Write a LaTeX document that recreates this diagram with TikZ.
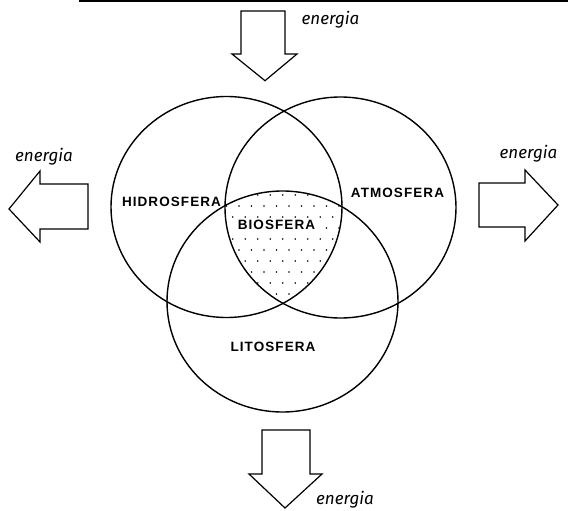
\documentclass[tikz,border=0pt]{standalone}
\usepackage{fontspec}
\setmainfont{Liberation Sans}
\newfontfamily\labfont[LetterSpace=8]{Liberation Sans}
\newfontfamily\enfont{Fira Sans}
\begin{document}
\begin{tikzpicture}[x=1pt,y=-1pt]
\useasboundingbox (0,0) rectangle (568,511);
\tikzset{
  ring/.style={line width=1.4pt},
  blockarrow/.style={line width=1.2pt, line join=miter},
  lab/.style={font=\labfont\bfseries\fontsize{13.5}{15}\selectfont, inner sep=0pt},
  en/.style={font=\enfont\itshape\fontsize{17}{19}\selectfont, inner sep=0pt},
  dotmark/.style={fill=black}
}
% top rule
\draw[line width=2pt] (79,1) -- (568,1);
% dotted biosphere region
\begin{scope}
  \clip (226.5,207) ellipse [x radius=115.5pt, y radius=110.5pt];
  \clip (340.5,207.5) ellipse [x radius=115.5pt, y radius=110.5pt];
  \clip (282.5,301.5) ellipse [x radius=115.5pt, y radius=110.5pt];
  \foreach \i in {0,...,11}
    \foreach \j in {0,...,11}
      \fill[dotmark] ({214+\i*12.5+mod(\j,2)*6.25},{184+\j*11}) circle [radius=0.85pt];
\end{scope}
% circles
\draw[ring] (226.5,207) ellipse [x radius=115.5pt, y radius=110.5pt];
\draw[ring] (340.5,207.5) ellipse [x radius=115.5pt, y radius=110.5pt];
\draw[ring] (282.5,301.5) ellipse [x radius=115.5pt, y radius=110.5pt];
% labels
\node[lab] (hidro) at (171.5,202) {HIDROSFERA};
\node[lab] (atmo) at (397.5,193) {ATMOSFERA};
\node[lab, fill=white, inner sep=1.5pt] (bio) at (276.5,225) {BIOSFERA};
\node[lab] (lito) at (273,347) {LITOSFERA};
% energy arrows
\draw[blockarrow] (241,11) -- (285,11) -- (285,54) -- (297,54) -- (265,80.7) -- (232,54) -- (241,54) -- cycle;
\draw[blockarrow] (9,209) -- (40,171) -- (40,184) -- (88,184) -- (88,229) -- (40,229) -- (40,242) -- cycle;
\draw[blockarrow] (479,183) -- (525,183) -- (525,170) -- (558,205) -- (525,241) -- (525,227) -- (479,227) -- cycle;
\draw[blockarrow] (262,430) -- (310,430) -- (310,474) -- (322,474) -- (285,508) -- (249,474) -- (262,474) -- cycle;
\node[en] (entop) at (330.5,20) {energia};
\node[en] (enleft) at (44,157) {energia};
\node[en] (enright) at (528.5,154) {energia};
\node[en] (enbot) at (345,500) {energia};
\end{tikzpicture}
\end{document}
